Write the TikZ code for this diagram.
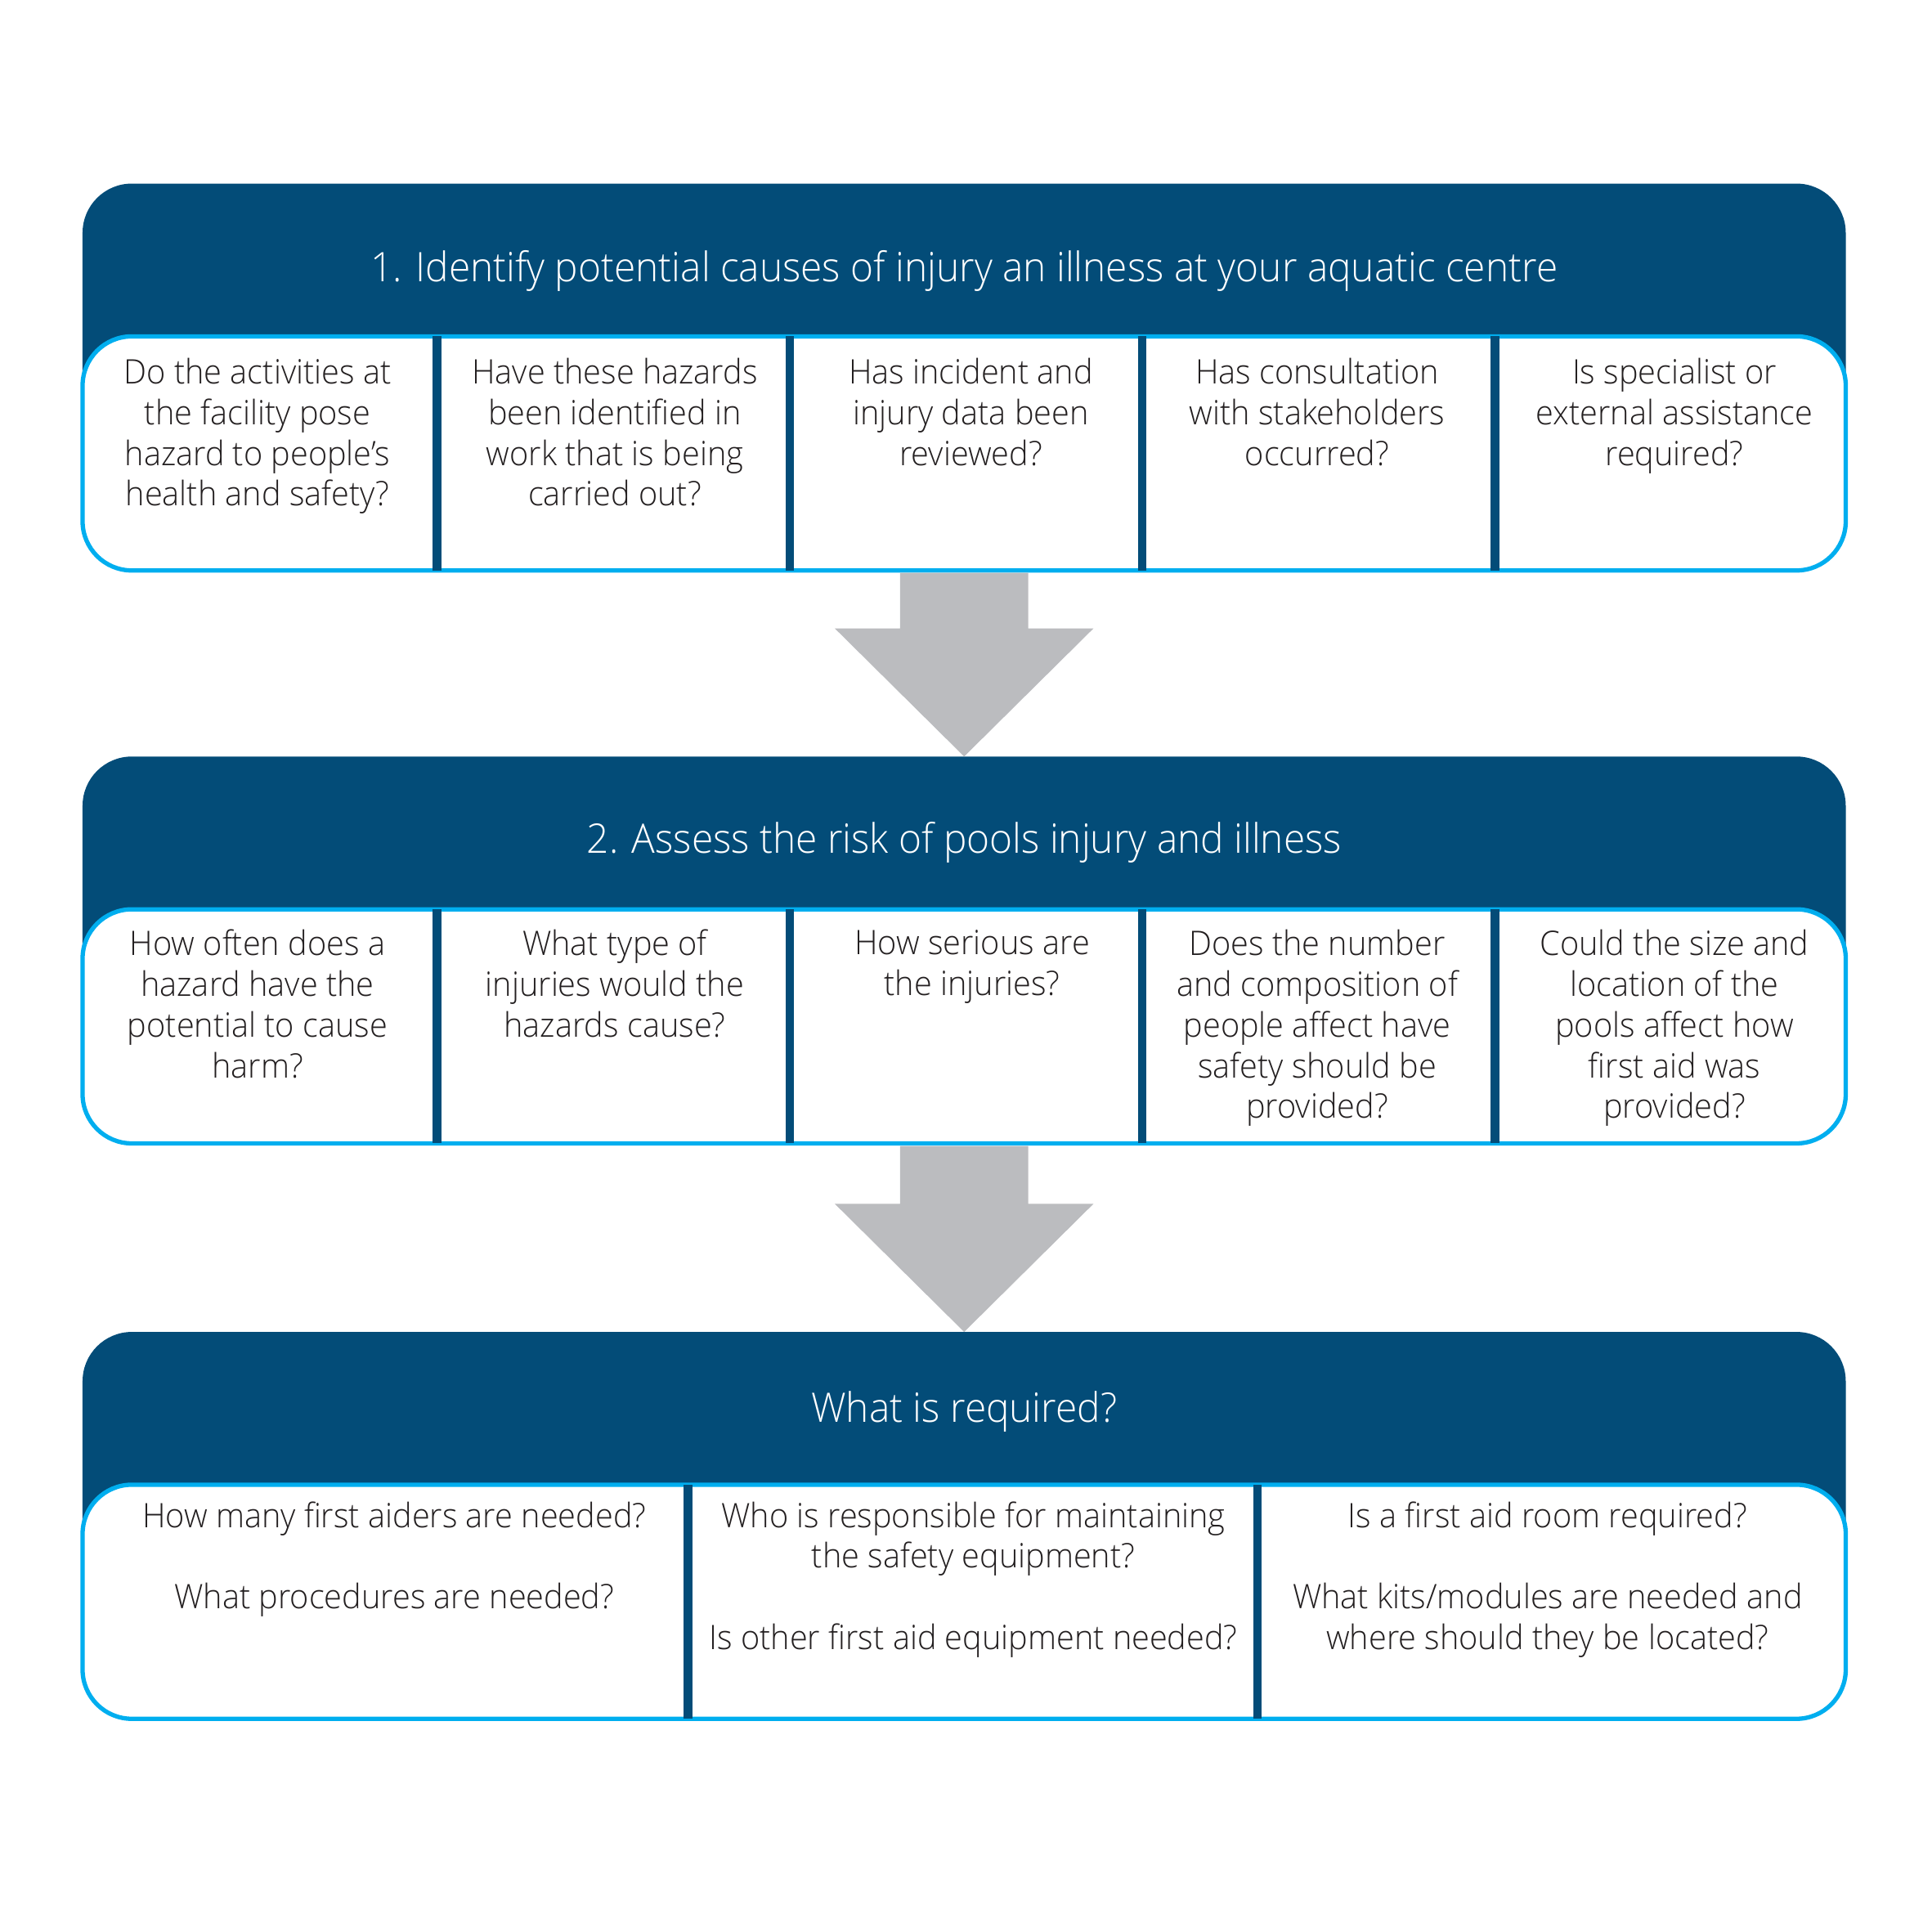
\documentclass[tikz,border=0pt]{standalone}
\usepackage{fontspec}
\setmainfont{Open Sans Light}[FakeStretch=0.96]
\usetikzlibrary{calc,positioning}
\definecolor{navy}{RGB}{3,76,120}
\definecolor{sky}{RGB}{0,174,239}
\definecolor{arrowgrey}{RGB}{187,188,191}
\definecolor{ink}{RGB}{35,31,32}

\begin{document}
\begin{tikzpicture}[x=0.1mm,y=0.1mm,
    panel/.style={fill=navy,rounded corners=4mm,minimum width=143.1mm,
      minimum height=31.4mm,inner sep=0pt,outer sep=0pt,anchor=north},
    qrow/.style={fill=white,draw=sky,line width=1pt,rounded corners=4mm,
      minimum width=143.1mm,minimum height=19mm,inner sep=0pt,outer sep=0pt},
    title/.style={text=white,inner sep=0pt,font=\fontsize{9.4}{11}\selectfont},
    qtext/.style={text=ink,align=center,anchor=north,inner sep=0pt,
      font=\fontsize{7.8}{9.4}\selectfont},
    bar/.style={navy,line width=0.7mm},
    bigarrow/.style={fill=arrowgrey}]
 \useasboundingbox (0,0) rectangle (1568,1568);
 % three steps
 \node[panel] (P1) at (782.5,1419) {};
 \node[qrow,below=12.4mm of P1.north] (R1) {};
 \node[panel,below=15.1mm of R1.south] (P2) {};
 \node[qrow,below=12.4mm of P2.north] (R2) {};
 \node[panel,below=15.3mm of R2.south] (P3) {};
 \node[qrow,below=12.4mm of P3.north] (R3) {};
 \node[title] (T1) at ($(P1.north)+(0,-71)$)
  {1. Identify potential causes of injury an illness at your aquatic centre};
 \node[title] (T2) at ($(P2.north)+(0,-70)$)
  {2. Assess the risk of pools injury and illness};
 \node[title] (T3) at ($(P3.north)+(0,-65)$) {What is required?};
 % dividers
 \foreach \R in {R1,R2}
  \foreach \k in {1,...,4}
   \draw[bar] ($(\R.north west)+(286.2*\k+1.5,0)$) -- ($(\R.south west)+(286.2*\k+1.5,0)$);
 \foreach \x in {491.5,953.5}
  \draw[bar] ($(R3.north west)+(\x,0)$) -- ($(R3.south west)+(\x,0)$);
 % questions
 \foreach \x/\q [count=\i] in {142/{Do the activities at\\the facility pose\\hazard to people's\\health and safety?},
   432/{Have these hazards\\been identified in\\work that is being\\carried out?},
   721/{Has incident and\\injury data been\\reviewed?},
   1002/{Has consultation\\with stakeholders\\occurred?},
   1292/{Is specialist or\\external assistance\\required?}}
  \node[qtext] (Q1-\i) at ($(R1.north west)+(\x,-17)$) {\q};
 \foreach \x/\q [count=\i] in {142/{How often does a\\hazard have the\\potential to cause\\harm?},
   432/{What type of\\injuries would the\\hazards cause?},
   722/{How serious are\\the injuries?},
   1002/{Does the number\\and composition of\\people affect have\\safety should be\\provided?},
   1292/{Could the size and\\location of the\\pools affect how\\first aid was\\provided?}}
  \node[qtext] (Q2-\i) at ($(R2.north west)+(\x,-16)$) {\q};
 \foreach \x/\q [count=\i] in {253/{How many first aiders are needed?\\[9.4pt]What procedures are needed?},
   723/{Who is responsible for maintaining\\the safety equipment?\\[9.4pt]Is other first aid equipment needed?},
   1189/{Is a first aid room required?\\[9.4pt]What kits/modules are needed and\\where should they be located?}}
  \node[qtext] (Q3-\i) at ($(R3.north west)+(\x,-13)$) {\q};
 % block arrows between the steps
 \foreach \A/\B in {R1/P2,R2/P3}
  \fill[bigarrow] ($(\A.south)+(-52,-2)$) -- ($(\B.north)+(-52,104)$) -- ++(-53,0)
   -- (\B.north) -- ($(\B.north)+(105,104)$) -- ++(-53,0) -- ($(\A.south)+(52,-2)$) -- cycle;
\end{tikzpicture}
\end{document}
